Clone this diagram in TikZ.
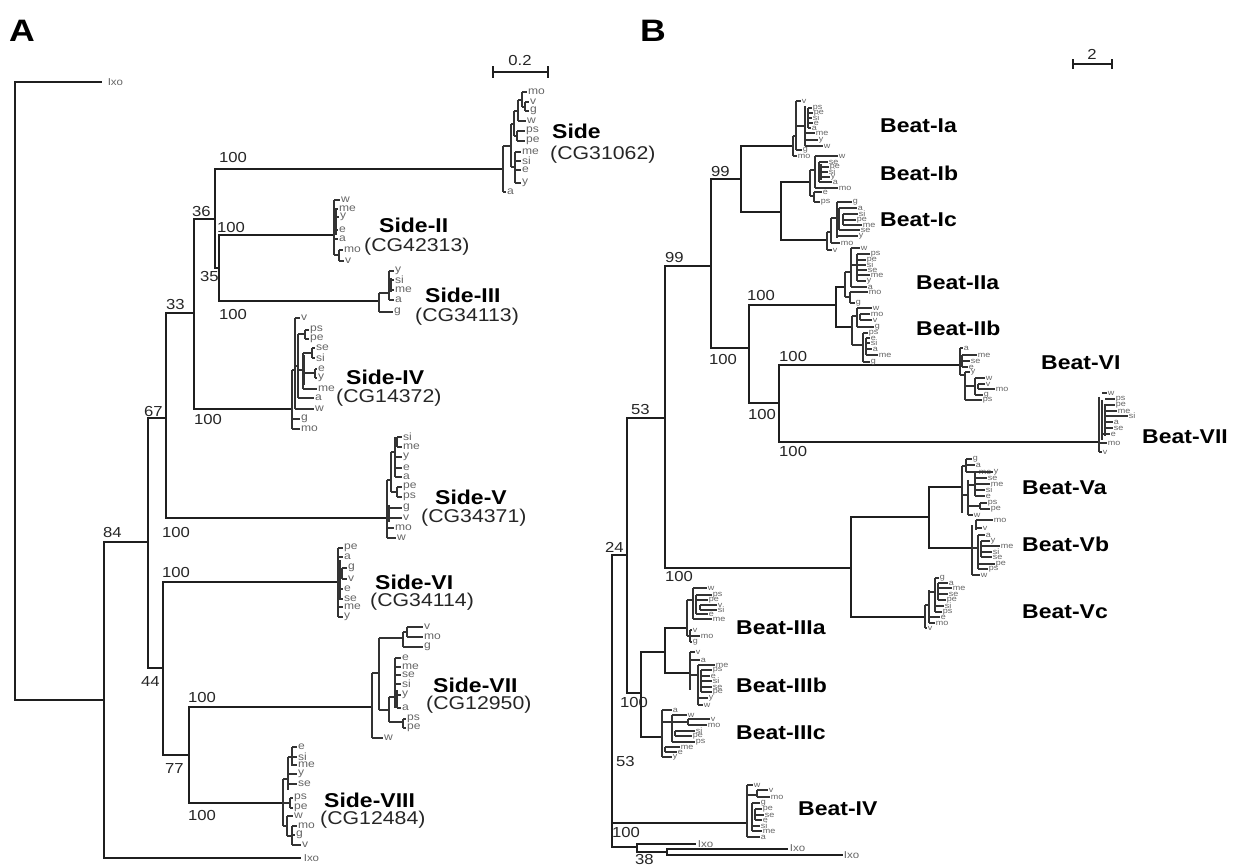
\documentclass[tikz,border=0pt]{standalone}
\usepackage{fontspec}
\setmainfont{Liberation Sans}[FakeStretch=1.15]
\newcount\lfn
\tikzset{
  br/.style={line width=1.8pt,draw=black!88,line cap=rect},
  tl/.style={line width=1.1pt,draw=black!80},
  leafa/.style={font=\fontsize{10.5}{11}\selectfont,text=black!60,inner sep=0.6pt},
  leafb/.style={font=\fontsize{7.8}{8}\selectfont,text=black!60,inner sep=0.3pt},
  ixo/.style={font=\fontsize{10}{11}\selectfont,text=black!60,inner sep=0.6pt,anchor=west},
  boot/.style={font=\fontsize{14.5}{16}\selectfont,text=black!85,inner sep=0pt,anchor=west},
  clade/.style={font=\bfseries\fontsize{20}{22}\selectfont,inner sep=0pt,anchor=west},
  cg/.style={font=\fontsize{18.5}{20}\selectfont,inner sep=0pt,anchor=west,text=black!85},
  panel/.style={font=\bfseries\fontsize{31}{34}\selectfont,inner sep=0pt,anchor=west}
}
\newcommand{\tvv}[3]{\draw[tl] (#1,#2) -- (#1,#3);}
\newcommand{\thh}[3]{\draw[tl] (#1,#3) -- (#2,#3);}
\newcommand{\leafa}[4]{\global\advance\lfn by 1 \draw[tl] (#1,#2) -- (#3,#2) node[leafa,anchor=west] (lf\the\lfn) {#4};}
\newcommand{\leafb}[4]{\global\advance\lfn by 1 \draw[tl] (#1,#2) -- (#3,#2) node[leafb,anchor=west] (lf\the\lfn) {#4};}
\begin{document}
\begin{tikzpicture}[x=1pt,y=-1pt]
\useasboundingbox (0,0) rectangle (1243,866);
\fill[white] (0,0) rectangle (1243,866);
% ---------- panel letters
\node[panel] (pA) at (9,31) {A};
\node[panel] (pB) at (640,31) {B};
% ---------- scale bars
\draw[br,line width=1.4pt] (493,72) -- (548,72);
\draw[br,line width=1.4pt] (493,67) -- (493,77);
\draw[br,line width=1.4pt] (548,67) -- (548,77);
\node[boot,anchor=center] (sA) at (520,61) {0.2};
\draw[br,line width=1.4pt] (1073,64) -- (1112,64);
\draw[br,line width=1.4pt] (1073,60) -- (1073,68);
\draw[br,line width=1.4pt] (1112,60) -- (1112,68);
\node[boot,anchor=center] (sB) at (1092,54) {2};
% =============== PANEL A backbone
\draw[br] (101,82) -- (15,82) -- (15,700) -- (104,700);
\node[ixo] (ixoA1) at (107,82) {Ixo};
\draw[br] (148,542) -- (104,542) -- (104,858) -- (300,858);
\node[ixo] (ixoA2) at (303,858) {Ixo};
\draw[br] (166,418) -- (148,418) -- (148,668) -- (163,668);
\draw[br] (194,313) -- (166,313) -- (166,518) -- (387,518);
\draw[br] (215,219) -- (194,219) -- (194,409) -- (292,409);
\draw[br] (503,169) -- (215,169) -- (215,268) -- (219,268);
\draw[br] (334,235) -- (219,235) -- (219,301) -- (379,301);
\draw[br] (338,582) -- (163,582) -- (163,755) -- (189,755);
\draw[br] (372,707) -- (189,707) -- (189,803) -- (283,803);
% bootstrap A
\node[boot] (bA1) at (219,158) {100};
\node[boot] (bA2) at (192,212) {36};
\node[boot] (bA3) at (217,228) {100};
\node[boot] (bA4) at (200,277) {35};
\node[boot] (bA5) at (219,315) {100};
\node[boot] (bA6) at (166,305) {33};
\node[boot] (bA7) at (194,420) {100};
\node[boot] (bA8) at (144,412) {67};
\node[boot] (bA9) at (162,533) {100};
\node[boot] (bA10) at (103,533) {84};
\node[boot] (bA11) at (162,573) {100};
\node[boot] (bA12) at (141,682) {44};
\node[boot] (bA13) at (165,769) {77};
\node[boot] (bA14) at (188,698) {100};
\node[boot] (bA15) at (188,816) {100};
% clade labels A
\node[clade] (cS1) at (552,131) {Side};
\node[cg] (gS1) at (550,155) {(CG31062)};
\node[clade] (cS2) at (379,225) {Side-II};
\node[cg] (gS2) at (364,247) {(CG42313)};
\node[clade] (cS3) at (425,295) {Side-III};
\node[cg] (gS3) at (415,317) {(CG34113)};
\node[clade] (cS4) at (346,377) {Side-IV};
\node[cg] (gS4) at (336,398) {(CG14372)};
\node[clade] (cS5) at (435,497) {Side-V};
\node[cg] (gS5) at (421,518) {(CG34371)};
\node[clade] (cS6) at (375,582) {Side-VI};
\node[cg] (gS6) at (370,602) {(CG34114)};
\node[clade] (cS7) at (433,685) {Side-VII};
\node[cg] (gS7) at (426,705) {(CG12950)};
\node[clade] (cS8) at (324,800) {Side-VIII};
\node[cg] (gS8) at (320,820) {(CG12484)};
% ---- Side cluster
\tvv{503}{146}{192}
\leafa{503}{192}{506}{a}
\thh{503}{511}{146}
\tvv{511}{124}{167}
\thh{511}{515}{167}
\tvv{515}{152}{183}
\leafa{515}{152}{521}{me}
\leafa{515}{161}{521}{si}
\leafa{515}{170}{521}{e}
\leafa{515}{183}{521}{y}
\thh{511}{514}{124}
\tvv{514}{111}{136}
\thh{514}{517}{136}
\tvv{517}{131}{141}
\leafa{517}{131}{525}{ps}
\leafa{517}{141}{525}{pe}
\thh{514}{518}{111}
\tvv{518}{100}{121}
\leafa{518}{121}{526}{w}
\thh{518}{522}{100}
\tvv{522}{92}{107}
\leafa{522}{92}{527}{mo}
\thh{522}{525}{107}
\tvv{525}{102}{111}
\leafa{525}{102}{529}{v}
\leafa{525}{111}{529}{g}
% ---- Side-II cluster
\tvv{334}{200}{255}
\tvv{336}{210}{235}
\leafa{334}{200}{340}{w}
\leafa{334}{209}{338}{me}
\leafa{336}{217}{339}{y}
\leafa{336}{230}{338}{e}
\leafa{334}{239}{338}{a}
\thh{334}{339}{255}
\tvv{339}{250}{261}
\leafa{339}{250}{343}{mo}
\leafa{339}{261}{344}{v}
% ---- Side-III cluster
\tvv{379}{293}{312}
\thh{379}{389}{293}
\tvv{389}{271}{300}
\tvv{391}{278}{292}
\leafa{389}{271}{394}{y}
\leafa{391}{280}{394}{si}
\leafa{389}{290}{394}{me}
\leafa{389}{300}{394}{a}
\leafa{379}{312}{393}{g}
% ---- Side-IV cluster
\tvv{292}{370}{429}
\leafa{292}{419}{300}{g}
\leafa{292}{429}{300}{mo}
\thh{292}{295}{370}
\tvv{295}{318}{409}
\leafa{295}{318}{300}{v}
\leafa{295}{409}{314}{w}
\thh{295}{298}{366}
\tvv{298}{334}{398}
\leafa{298}{398}{314}{a}
\thh{298}{305}{334}
\tvv{305}{330}{339}
\leafa{305}{330}{309}{ps}
\leafa{305}{339}{309}{pe}
\thh{298}{303}{370}
\tvv{303}{353}{389}
\tvv{304}{355}{385}
\leafa{303}{389}{317}{me}
\thh{303}{312}{353}
\tvv{312}{348}{358}
\leafa{312}{348}{315}{se}
\leafa{312}{358}{315}{si}
\thh{303}{315}{373}
\tvv{315}{369}{378}
\leafa{315}{369}{317}{e}
\leafa{315}{378}{317}{y}
% ---- Side-V cluster
\tvv{387}{480}{538}
\tvv{389}{505}{522}
\leafa{387}{528}{394}{mo}
\leafa{387}{538}{396}{w}
\leafa{389}{508}{402}{g}
\leafa{389}{518}{402}{v}
\thh{387}{391}{480}
\tvv{391}{452}{492}
\thh{391}{397}{492}
\tvv{397}{487}{497}
\leafa{397}{487}{402}{pe}
\leafa{397}{497}{402}{ps}
\thh{391}{395}{452}
\tvv{395}{437}{477}
\tvv{397}{437}{447}
\leafa{397}{437}{402}{si}
\leafa{397}{447}{402}{me}
\leafa{395}{457}{402}{y}
\leafa{395}{468}{402}{e}
\leafa{395}{477}{402}{a}
% ---- Side-VI cluster
\tvv{338}{548}{617}
\tvv{340}{560}{600}
\leafa{338}{548}{343}{pe}
\leafa{338}{557}{343}{a}
\thh{340}{342}{573}
\tvv{342}{568}{579}
\leafa{342}{568}{347}{g}
\leafa{342}{579}{347}{v}
\leafa{340}{589}{343}{e}
\leafa{340}{599}{343}{se}
\leafa{338}{607}{343}{me}
\leafa{338}{617}{343}{y}
% ---- Side-VII cluster
\tvv{372}{673}{738}
\leafa{372}{738}{383}{w}
\thh{372}{379}{673}
\tvv{379}{638}{710}
\thh{379}{403}{638}
\tvv{403}{632}{647}
\leafa{403}{647}{423}{g}
\thh{403}{407}{632}
\tvv{407}{627}{637}
\leafa{407}{627}{423}{v}
\leafa{407}{637}{423}{mo}
\thh{379}{389}{710}
\tvv{389}{697}{722}
\thh{389}{395}{697}
\tvv{395}{658}{708}
\tvv{397}{690}{708}
\leafa{395}{658}{401}{e}
\leafa{395}{667}{401}{me}
\leafa{395}{675}{401}{se}
\leafa{395}{684}{401}{si}
\leafa{397}{695}{401}{y}
\leafa{397}{708}{401}{a}
\thh{389}{403}{722}
\tvv{403}{719}{728}
\leafa{403}{719}{406}{ps}
\leafa{403}{728}{406}{pe}
% ---- Side-VIII cluster
\tvv{283}{779}{826}
\thh{283}{288}{779}
\tvv{288}{757}{790}
\thh{288}{292}{757}
\tvv{292}{747}{766}
\leafa{292}{747}{297}{e}
\leafa{292}{757}{297}{si}
\leafa{292}{765}{297}{me}
\leafa{288}{774}{297}{y}
\leafa{288}{784}{297}{se}
\thh{283}{290}{803}
\tvv{290}{798}{808}
\leafa{290}{798}{293}{ps}
\leafa{290}{808}{293}{pe}
\thh{283}{287}{826}
\tvv{287}{816}{836}
\leafa{287}{816}{293}{w}
\thh{287}{292}{836}
\tvv{292}{826}{845}
\leafa{292}{826}{297}{mo}
\leafa{292}{835}{295}{g}
\leafa{292}{845}{301}{v}
% =============== PANEL B backbone
\draw[br] (627,555) -- (612,555) -- (612,847) -- (637,847);
\draw[br] (612,823) -- (747,823);
\draw[br] (695,844) -- (637,844) -- (637,852) -- (667,852);
\draw[br] (787,849) -- (667,849) -- (667,855) -- (842,855);
\node[ixo] (ixoB1) at (697,844) {Ixo};
\node[ixo] (ixoB2) at (789,848) {Ixo};
\node[ixo] (ixoB3) at (843,855) {Ixo};
\draw[br] (665,418) -- (627,418) -- (627,693) -- (641,693);
\draw[br] (711,266) -- (665,266) -- (665,568) -- (851,568);
\draw[br] (741,179) -- (711,179) -- (711,348) -- (749,348);
\draw[br] (793,146) -- (741,146) -- (741,212) -- (781,212);
\draw[br] (810,182) -- (781,182) -- (781,240) -- (827,240);
\draw[br] (836,305) -- (749,305) -- (749,403) -- (779,403);
\draw[br] (845,287) -- (836,287) -- (836,327) -- (852,327);
\draw[br] (960,365) -- (779,365) -- (779,442) -- (1099,442);
\draw[br] (929,517) -- (851,517) -- (851,617) -- (925,617);
\draw[br] (962,487) -- (929,487) -- (929,548) -- (972,548);
\draw[br] (665,652) -- (641,652) -- (641,737) -- (662,737);
\draw[br] (687,628) -- (665,628) -- (665,673) -- (690,673);
% bootstrap B
\node[boot] (bB1) at (711,172) {99};
\node[boot] (bB2) at (665,258) {99};
\node[boot] (bB3) at (747,296) {100};
\node[boot] (bB4) at (748,415) {100};
\node[boot] (bB5) at (709,360) {100};
\node[boot] (bB6) at (779,357) {100};
\node[boot] (bB7) at (779,452) {100};
\node[boot] (bB8) at (631,410) {53};
\node[boot] (bB9) at (605,547) {24};
\node[boot] (bB10) at (665,577) {100};
\node[boot] (bB11) at (620,703) {100};
\node[boot] (bB12) at (616,762) {53};
\node[boot] (bB13) at (612,833) {100};
\node[boot] (bB14) at (635,860) {38};
% clade labels B
\node[clade] (cB1) at (880,126) {Beat-Ia};
\node[clade] (cB2) at (880,173) {Beat-Ib};
\node[clade] (cB3) at (880,220) {Beat-Ic};
\node[clade] (cB4) at (916,283) {Beat-IIa};
\node[clade] (cB5) at (916,328) {Beat-IIb};
\node[clade] (cB6) at (1041,363) {Beat-VI};
\node[clade] (cB7) at (1142,437) {Beat-VII};
\node[clade] (cB8) at (1022,488) {Beat-Va};
\node[clade] (cB9) at (1022,544) {Beat-Vb};
\node[clade] (cB10) at (1022,612) {Beat-Vc};
\node[clade] (cB11) at (736,628) {Beat-IIIa};
\node[clade] (cB12) at (736,685) {Beat-IIIb};
\node[clade] (cB13) at (736,733) {Beat-IIIc};
\node[clade] (cB14) at (798,809) {Beat-IV};
% ---- Beat-Ia
\tvv{793}{136}{156}
\leafb{793}{156}{797}{mo}
\thh{793}{796}{136}
\tvv{796}{101}{150}
\leafb{796}{101}{801}{v}
\leafb{796}{150}{802}{g}
\thh{796}{805}{126}
\tvv{805}{106}{146}
\tvv{808}{108}{128}
\leafb{808}{108}{812}{ps}
\leafb{808}{113}{813}{pe}
\leafb{808}{118}{812}{si}
\leafb{808}{123}{813}{e}
\leafb{808}{128}{811}{a}
\leafb{805}{133}{815}{me}
\leafb{805}{140}{818}{y}
\leafb{805}{146}{823}{w}
% ---- Beat-Ib
\tvv{810}{170}{196}
\thh{810}{815}{170}
\tvv{815}{156}{188}
\leafb{815}{156}{838}{w}
\tvv{819}{162}{182}
\tvv{821}{164}{180}
\leafb{819}{162}{828}{se}
\leafb{819}{167}{829}{pe}
\leafb{821}{172}{828}{si}
\leafb{821}{177}{830}{y}
\leafb{819}{182}{832}{a}
\leafb{815}{188}{838}{mo}
\thh{810}{814}{196}
\tvv{814}{192}{202}
\leafb{814}{192}{822}{e}
\leafb{814}{202}{820}{ps}
% ---- Beat-Ic
\tvv{827}{232}{250}
\leafb{827}{250}{832}{v}
\thh{827}{831}{232}
\tvv{831}{218}{243}
\leafb{831}{243}{840}{mo}
\thh{831}{837}{218}
\tvv{837}{202}{238}
\tvv{839}{208}{230}
\tvv{843}{214}{225}
\leafb{837}{202}{852}{g}
\leafb{839}{208}{857}{a}
\leafb{843}{214}{858}{si}
\leafb{843}{220}{856}{pe}
\leafb{843}{225}{862}{me}
\leafb{839}{230}{860}{se}
\leafb{837}{236}{858}{y}
% ---- Beat-IIa
\tvv{845}{272}{297}
\thh{845}{850}{297}
\tvv{850}{292}{303}
\leafb{850}{292}{868}{mo}
\leafb{850}{303}{855}{g}
\thh{845}{851}{272}
\tvv{851}{248}{287}
\leafb{851}{248}{860}{w}
\leafb{851}{287}{867}{a}
\thh{851}{857}{265}
\tvv{857}{254}{281}
\leafb{857}{254}{870}{ps}
\leafb{857}{260}{866}{pe}
\leafb{857}{265}{866}{si}
\leafb{857}{270}{867}{se}
\leafb{857}{275}{870}{me}
\leafb{857}{281}{866}{y}
% ---- Beat-IIb
\tvv{852}{316}{345}
\thh{852}{857}{316}
\tvv{857}{308}{327}
\leafb{857}{308}{872}{w}
\tvv{860}{314}{320}
\leafb{860}{314}{870}{mo}
\leafb{860}{320}{872}{v}
\leafb{857}{327}{874}{g}
\thh{852}{863}{345}
\tvv{863}{333}{362}
\tvv{866}{338}{355}
\leafb{863}{333}{868}{ps}
\leafb{866}{338}{870}{e}
\leafb{866}{343}{870}{si}
\leafb{866}{349}{872}{a}
\leafb{866}{355}{878}{me}
\leafb{863}{362}{870}{g}
% ---- Beat-VI
\tvv{960}{348}{375}
\leafb{960}{348}{963}{a}
\tvv{962}{355}{367}
\leafb{962}{355}{977}{me}
\leafb{962}{361}{970}{se}
\leafb{962}{367}{968}{e}
\thh{960}{965}{375}
\tvv{965}{372}{400}
\leafb{965}{372}{970}{y}
\thh{965}{975}{386}
\tvv{975}{378}{395}
\leafb{975}{378}{985}{w}
\tvv{978}{384}{389}
\leafb{978}{384}{985}{v}
\leafb{978}{389}{995}{mo}
\leafb{975}{395}{983}{g}
\leafb{965}{400}{982}{ps}
% ---- Beat-VII
\tvv{1099}{397}{452}
\tvv{1102}{400}{440}
\tvv{1105}{404}{436}
\leafb{1102}{393}{1107}{w}
\leafb{1105}{399}{1115}{ps}
\leafb{1105}{405}{1115}{pe}
\leafb{1105}{411}{1117}{me}
\leafb{1105}{416}{1128}{si}
\leafb{1105}{422}{1113}{a}
\leafb{1105}{428}{1113}{se}
\leafb{1102}{434}{1110}{e}
\leafb{1099}{443}{1107}{mo}
\leafb{1099}{452}{1102}{v}
% ---- Beat-Va
\tvv{962}{466}{513}
\thh{962}{966}{466}
\tvv{966}{459}{472}
\leafb{966}{459}{972}{g}
\leafb{966}{465}{975}{a}
\leafb{966}{472}{978}{mo}
\thh{962}{968}{495}
\tvv{968}{480}{515}
\thh{968}{975}{485}
\tvv{975}{472}{496}
\leafb{975}{472}{993}{y}
\leafb{975}{478}{987}{se}
\leafb{975}{484}{990}{me}
\leafb{975}{490}{985}{si}
\leafb{975}{496}{985}{e}
\thh{968}{980}{506}
\tvv{980}{503}{509}
\leafb{980}{503}{987}{ps}
\leafb{980}{509}{990}{pe}
\leafb{968}{515}{973}{w}
% ---- Beat-Vb
\tvv{972}{525}{575}
\tvv{976}{520}{530}
\leafb{976}{520}{993}{mo}
\leafb{976}{528}{982}{v}
\thh{972}{978}{548}
\tvv{978}{535}{569}
\tvv{981}{541}{557}
\leafb{978}{535}{985}{a}
\leafb{981}{541}{990}{y}
\leafb{981}{546}{1000}{me}
\leafb{981}{552}{992}{si}
\leafb{981}{557}{992}{se}
\leafb{978}{564}{995}{pe}
\leafb{978}{569}{988}{ps}
\leafb{972}{575}{980}{w}
% ---- Beat-Vc
\tvv{925}{605}{628}
\leafb{925}{628}{927}{v}
\thh{925}{929}{605}
\tvv{929}{590}{623}
\leafb{929}{623}{935}{mo}
\thh{929}{935}{592}
\tvv{935}{578}{612}
\tvv{938}{583}{600}
\leafb{935}{578}{939}{g}
\leafb{938}{583}{948}{a}
\leafb{938}{588}{952}{me}
\leafb{938}{594}{948}{se}
\leafb{938}{600}{946}{pe}
\leafb{935}{606}{944}{si}
\leafb{935}{612}{942}{ps}
\leafb{929}{617}{940}{e}
% ---- Beat-IIIa
\tvv{687}{600}{636}
\thh{687}{693}{600}
\tvv{693}{588}{619}
\tvv{696}{595}{614}
\tvv{700}{605}{610}
\leafb{693}{588}{707}{w}
\leafb{696}{595}{712}{ps}
\leafb{696}{600}{708}{pe}
\leafb{700}{605}{717}{v}
\leafb{700}{610}{717}{si}
\leafb{696}{614}{708}{e}
\leafb{693}{619}{712}{me}
\thh{687}{690}{636}
\tvv{690}{630}{642}
\leafb{690}{630}{692}{v}
\leafb{690}{636}{700}{mo}
\leafb{690}{642}{692}{g}
% ---- Beat-IIIb
\tvv{690}{652}{690}
\leafb{690}{652}{695}{v}
\leafb{690}{660}{700}{a}
\thh{690}{698}{675}
\tvv{698}{665}{705}
\tvv{701}{670}{692}
\leafb{698}{665}{715}{me}
\leafb{701}{670}{712}{ps}
\leafb{701}{676}{710}{e}
\leafb{701}{681}{712}{si}
\leafb{701}{687}{712}{se}
\leafb{701}{692}{712}{pe}
\leafb{698}{698}{708}{y}
\leafb{698}{705}{703}{w}
% ---- Beat-IIIc
\tvv{662}{710}{757}
\leafb{662}{710}{672}{a}
\thh{662}{672}{722}
\tvv{672}{715}{742}
\leafb{672}{715}{687}{w}
\thh{672}{688}{722}
\tvv{688}{719}{725}
\leafb{688}{719}{710}{v}
\leafb{688}{725}{707}{mo}
\tvv{675}{731}{736}
\leafb{675}{731}{695}{si}
\leafb{675}{736}{692}{pe}
\leafb{672}{742}{695}{ps}
\tvv{665}{747}{752}
\leafb{665}{747}{680}{me}
\leafb{665}{752}{677}{e}
\leafb{662}{757}{672}{y}
% ---- Beat-IV
\tvv{747}{785}{837}
\leafb{747}{785}{753}{w}
\thh{747}{757}{795}
\tvv{757}{790}{797}
\leafb{757}{790}{768}{v}
\leafb{757}{797}{770}{mo}
\tvv{752}{803}{831}
\tvv{755}{809}{820}
\leafb{752}{803}{760}{g}
\leafb{755}{809}{762}{pe}
\leafb{755}{815}{764}{se}
\leafb{755}{820}{762}{e}
\leafb{752}{826}{760}{si}
\leafb{752}{831}{762}{me}
\leafb{747}{837}{760}{a}
\end{tikzpicture}
\end{document}
